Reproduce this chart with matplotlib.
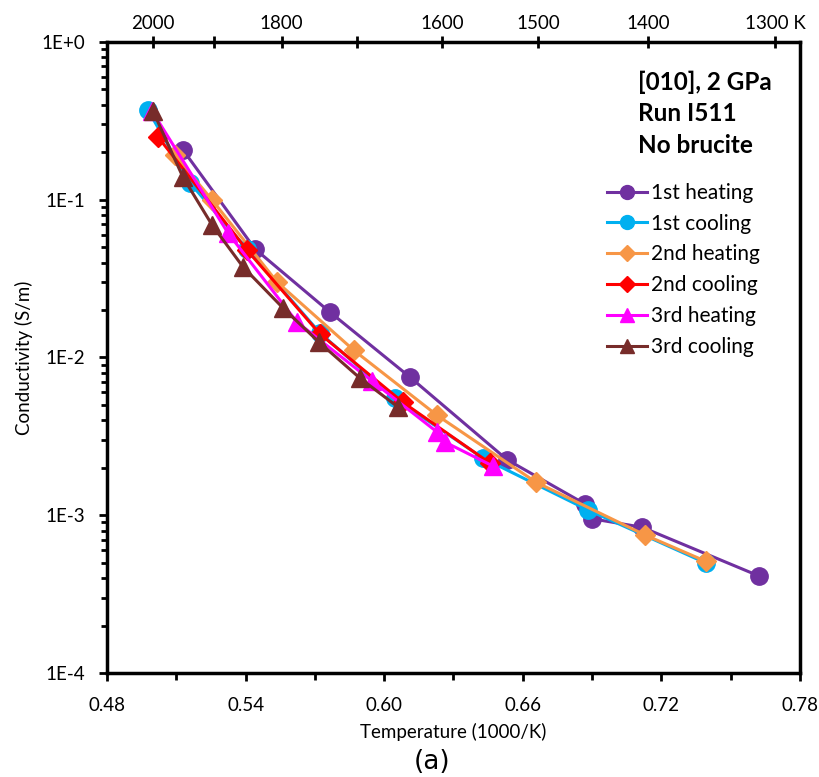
import numpy as np
import matplotlib.pyplot as plt
from matplotlib.ticker import FixedLocator, NullFormatter

plt.rcParams['font.family'] = ['Lato', 'DejaVu Sans']

# 1000/T values and conductivity (S/m)
x_h1 = [0.7623, 0.7116, 0.6900, 0.6869, 0.6532, 0.6112, 0.5765, 0.5441, 0.5129]
s_h1 = [4.12e-4, 8.4e-4, 9.5e-4, 1.18e-3, 2.25e-3, 7.5e-3, 1.94e-2, 4.87e-2, 0.207]

x_c1 = [0.4977, 0.5159, 0.5406, 0.5722, 0.6047, 0.6428, 0.6882, 0.7393]
s_c1 = [0.371, 0.128, 0.0487, 0.0143, 5.5e-3, 2.3e-3, 1.08e-3, 4.98e-4]

x_h2 = [0.7393, 0.7129, 0.6657, 0.6229, 0.5869, 0.5536, 0.5255, 0.5094]
s_h2 = [5.1e-4, 7.5e-4, 1.62e-3, 4.3e-3, 0.0111, 0.0301, 0.0996, 0.192]

x_c2 = [0.5021, 0.5406, 0.5722, 0.6081, 0.6458]
s_c2 = [0.250, 0.048, 0.0141, 5.2e-3, 2.14e-3]

x_h3 = [0.6471, 0.6263, 0.6229, 0.5947, 0.5622, 0.5324, 0.4995]
s_h3 = [2.05e-3, 2.91e-3, 3.37e-3, 7.1e-3, 0.0168, 0.0615, 0.365]

x_c3 = [0.4999, 0.5129, 0.5255, 0.5389, 0.5562, 0.5718, 0.5895, 0.6060]
s_c3 = [0.365, 0.139, 0.0692, 0.0375, 0.0206, 0.0125, 7.4e-3, 4.85e-3]

series = [
    ('1st heating', x_h1, s_h1, '#7030A0', 'o', 12.5),
    ('1st cooling', x_c1, s_c1, '#00B0F0', 'o', 12.5),
    ('2nd heating', x_h2, s_h2, '#F79646', 'D', 10),
    ('2nd cooling', x_c2, s_c2, '#FF0000', 'D', 10),
    ('3rd heating', x_h3, s_h3, '#FF00FF', '^', 12.5),
    ('3rd cooling', x_c3, s_c3, '#772C2A', '^', 12.5),
]

top_T = [2000, 1900, 1800, 1700, 1600, 1500, 1400, 1300]
top_lbl = ['2000', '', '1800', '', '1600', '1500', '1400', '1300 K']

fig = plt.figure(figsize=(8.19, 7.77), dpi=100)
ax = fig.add_axes([0.1306, 0.1338, 0.8462, 0.8122])

for name, xs, ys, c, m, ms in series:
    ax.plot(xs, ys, color=c, marker=m, markersize=ms, lw=2.2, label=name)

ax.set_yscale('log')
ax.set_xlim(0.48, 0.78)
ax.set_ylim(1e-4, 1)
ax.set_xticks(np.arange(0.48, 0.7801, 0.06))
ax.set_xticklabels(['0.48', '0.54', '0.60', '0.66', '0.72', '0.78'])
ax.xaxis.set_minor_locator(FixedLocator(np.arange(0.51, 0.78, 0.06)))
ax.set_yticks([1e-4, 1e-3, 1e-2, 1e-1, 1])
ax.set_yticklabels(['1E-4', '1E-3', '1E-2', '1E-1', '1E+0'])
ax.yaxis.set_minor_formatter(NullFormatter())
ax.tick_params(axis='both', which='major', direction='out', length=6, width=2,
               labelsize=13.5)
ax.tick_params(axis='x', which='major', pad=11)
ax.tick_params(axis='y', which='major', pad=10)
ax.tick_params(axis='both', which='minor', direction='out', length=5, width=2)
ax.tick_params(axis='y', which='minor', length=4)
for sp in ax.spines.values():
    sp.set_linewidth(2.5)

ax.set_xlabel('Temperature (1000/K)', fontsize=13.5, labelpad=7)
ax.set_ylabel('Conductivity (S/m)', fontsize=13.5, labelpad=6)

# top axis in kelvin
ax2 = ax.twiny()
ax2.set_xlim(ax.get_xlim())
ax2.set_xticks([1000.0 / t for t in top_T])
ax2.set_xticklabels(top_lbl)
ax2.tick_params(axis='x', direction='inout', length=9, width=2, labelsize=13.5, pad=3)

ax.text(0.766, 0.955, '[010], 2 GPa\nRun I511\nNo brucite', transform=ax.transAxes,
        ha='left', va='top', fontsize=17.5, fontweight='bold', linespacing=1.45)

ax.legend(loc='upper left', bbox_to_anchor=(0.71, 0.79), frameon=False,
          fontsize=15, handlelength=1.9, handletextpad=0.2, labelspacing=0.52,
          markerscale=0.8, borderaxespad=0)

fig.text(0.528, 0.019, '(a)', ha='center', va='center', fontsize=19,
         family='DejaVu Sans')

fig.savefig('out.png', dpi=100)
